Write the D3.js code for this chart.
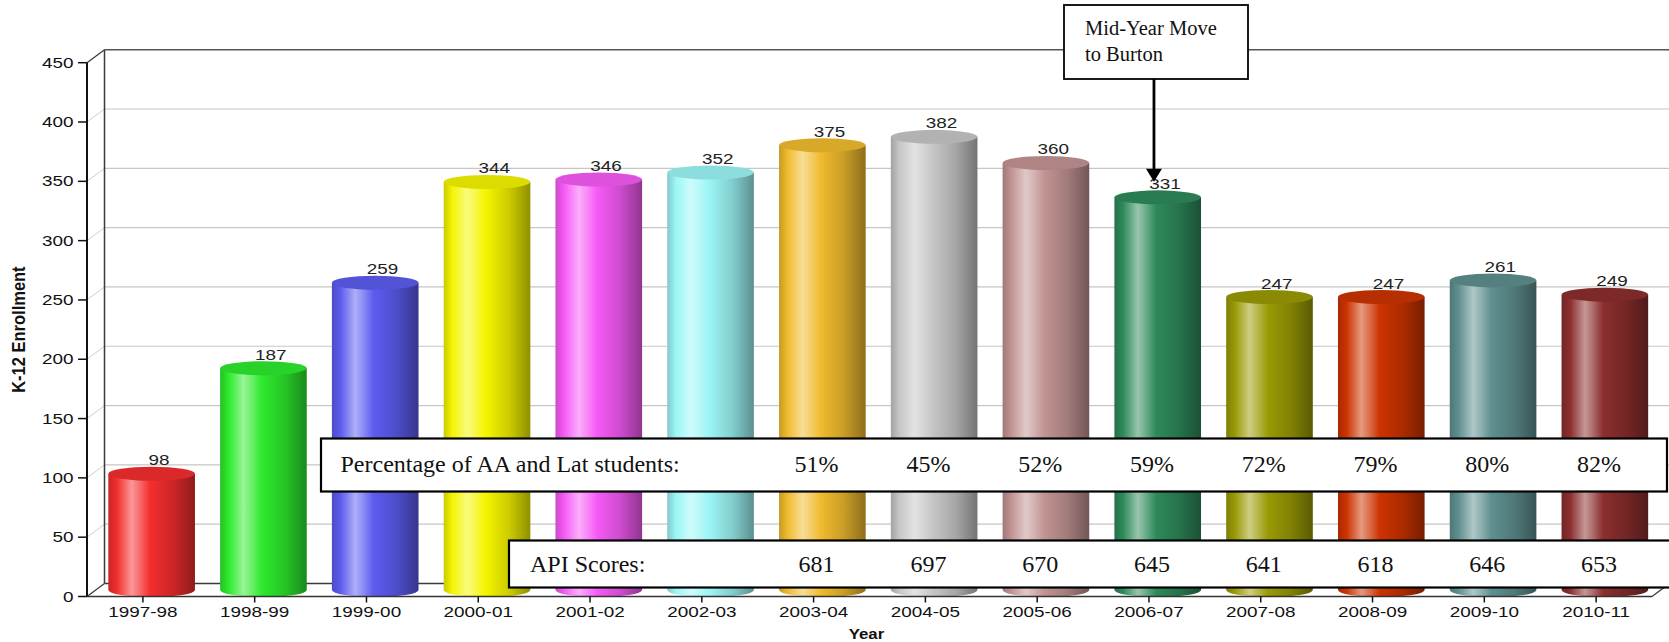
<!DOCTYPE html>
<html>
<head>
<meta charset="utf-8">
<script src="https://cdn.jsdelivr.net/npm/d3@7"></script>
<style>
  body { margin: 0; background: #fff; }
  svg { display: block; }
</style>
</head>
<body>
<svg id="chart" width="1669" height="642"></svg>
<script>
// School years and K-12 enrollment per year
const years = ["1997-98", "1998-99", "1999-00", "2000-01", "2001-02", "2002-03", "2003-04",
               "2004-05", "2005-06", "2006-07", "2007-08", "2008-09", "2009-10", "2010-11"];
const enrollment = [98, 187, 259, 344, 346, 352, 375, 382, 360, 331, 247, 247, 261, 249];
const barColors = ["#f42e2e", "#2eea2e", "#5c5cf0", "#f5f500", "#f65af6", "#9cf6f6", "#f0bb2e",
                   "#c6c6c6", "#c29393", "#2e8a5a", "#9a9a05", "#cc3300", "#5f8f8f", "#8b2e2e"];
const yTicks = [0, 50, 100, 150, 200, 250, 300, 350, 400, 450];

// Demographics and API scores for the later years
const statYears = ["2003-04", "2004-05", "2005-06", "2006-07", "2007-08", "2008-09", "2009-10", "2010-11"];
const aaLatShare = [51, 45, 52, 59, 72, 79, 80, 82];
const apiScores = [681, 697, 670, 645, 641, 618, 646, 653];

const noteYear = "2006-07";
const noteLines = ["Mid-Year Move", "to Burton"];

// ---- layout ----
const svg = d3.select("#chart");
const left = 87, right = 1652, baseY = 596.5, topY = 62.7;
const DX = 17.5, DY = -13;            // depth offset of the back wall
const SX = 1.35;                      // horizontal stretch of chart lettering
const axisFont = "'Liberation Sans', Arial, sans-serif";
const serif = "'Liberation Serif', 'Times New Roman', serif";

const x = d3.scaleBand().domain(years).range([left, right]).padding(0);
const xc = d => x(d) + x.bandwidth() / 2;
const y = d3.scaleLinear().domain([0, 450]).range([baseY, topY]);
const barW = x.bandwidth() * 0.775;

function wide(sel, sx) {
  sel.attr("transform", function () {
    const t = d3.select(this);
    return `translate(${t.attr("data-x")},${t.attr("data-y")}) scale(${sx},1)`;
  });
}

// ---- gradients ----
const defs = svg.append("defs");
barColors.forEach((c, i) => {
  const base = d3.color(c);
  const mix = t => d3.interpolateRgb(c, "#ffffff")(t);
  const g = defs.append("linearGradient").attr("id", "cyl" + i)
    .attr("x1", "0%").attr("x2", "100%").attr("y1", "0%").attr("y2", "0%");
  [[0, base.darker(0.55)], [0.1, base], [0.27, mix(0.5)], [0.36, mix(0.3)], [0.48, base],
   [0.75, base.darker(0.5)], [1, base.darker(1.5)]]
    .forEach(([o, col]) => g.append("stop").attr("offset", o).attr("stop-color", col.toString()));
});

// ---- walls and grid ----
const grid = svg.append("g");
yTicks.filter(v => v > 0 && v < 450).forEach(v => {
  grid.append("line").attr("x1", left).attr("y1", y(v)).attr("x2", left + DX).attr("y2", y(v) + DY)
    .attr("stroke", "#cfcfcf").attr("stroke-width", 1);
  grid.append("line").attr("x1", left + DX).attr("y1", y(v) + DY).attr("x2", 1669).attr("y2", y(v) + DY)
    .attr("stroke", "#c6c6c6").attr("stroke-width", 1.2);
});
const wall = svg.append("g").attr("stroke", "#3a3a3a").attr("fill", "none");
wall.append("line").attr("x1", left + DX).attr("y1", y(450) + DY).attr("x2", left + DX).attr("y2", y(0) + DY).attr("stroke-width", 1.5);
wall.append("line").attr("x1", left + DX).attr("y1", y(450) + DY).attr("x2", 1669).attr("y2", y(450) + DY).attr("stroke-width", 1.5).attr("stroke", "#555");
wall.append("line").attr("x1", left).attr("y1", y(450)).attr("x2", left + DX).attr("y2", y(450) + DY).attr("stroke-width", 1.2);
wall.append("line").attr("x1", left).attr("y1", y(0)).attr("x2", left + DX).attr("y2", y(0) + DY).attr("stroke-width", 1.2);
wall.append("line").attr("x1", left + DX).attr("y1", y(0) + DY).attr("x2", 1669).attr("y2", y(0) + DY).attr("stroke-width", 1.5);

// ---- cylinders ----
const bars = svg.append("g").selectAll("g").data(years).join("g");
const ry = 7;
bars.each(function (d, i) {
  const g = d3.select(this);
  const cx = xc(d) + DX / 2;
  const l = cx - barW / 2, r = cx + barW / 2;
  const yt = y(enrollment[i]) + DY / 2;
  const yb = y(0) + DY / 2;
  g.append("path")
    .attr("d", `M${l},${yt} L${l},${yb} A${barW / 2},${ry} 0 0 0 ${r},${yb} L${r},${yt} Z`)
    .attr("fill", `url(#cyl${i})`);
  g.append("ellipse").attr("cx", cx).attr("cy", yt).attr("rx", barW / 2).attr("ry", ry)
    .attr("fill", d3.color(barColors[i]).darker(0.3).toString());
});

// ---- front axes ----
const axes = svg.append("g").attr("stroke", "#111");
axes.append("line").attr("x1", left).attr("y1", y(450)).attr("x2", left).attr("y2", y(0)).attr("stroke-width", 2);
axes.append("line").attr("x1", left).attr("y1", y(0)).attr("x2", right).attr("y2", y(0)).attr("stroke-width", 1.6).attr("stroke", "#333");
axes.append("line").attr("x1", right).attr("y1", y(0)).attr("x2", right + DX).attr("y2", y(0) + DY).attr("stroke-width", 1.2).attr("stroke", "#333");
yTicks.forEach(v => {
  axes.append("line").attr("x1", left - 9).attr("y1", y(v)).attr("x2", left).attr("y2", y(v)).attr("stroke-width", 1.5);
});
years.forEach(d => {
  axes.append("line").attr("x1", xc(d)).attr("y1", y(0)).attr("x2", xc(d)).attr("y2", y(0) + 6).attr("stroke-width", 1.5);
});

// tick labels
svg.append("g").selectAll("text").data(yTicks).join("text")
  .attr("data-x", 73.5).attr("data-y", v => y(v) + 5)
  .attr("text-anchor", "end").attr("font-family", axisFont).attr("font-size", 14).attr("fill", "#111")
  .text(v => v).call(wide, SX);

svg.append("g").selectAll("text").data(years).join("text")
  .attr("data-x", d => xc(d)).attr("data-y", 617)
  .attr("text-anchor", "middle").attr("font-family", axisFont).attr("font-size", 14).attr("fill", "#111")
  .text(d => d).call(wide, SX);

// axis titles
svg.append("text")
  .attr("transform", `translate(25,${(y(0) + y(450)) / 2}) rotate(-90) scale(1,1.15)`)
  .attr("text-anchor", "middle").attr("font-family", axisFont).attr("font-size", 16.5).attr("font-weight", "bold")
  .attr("fill", "#111").text("K-12 Enrollment");
svg.append("text")
  .attr("data-x", (left + right) / 2 - 3).attr("data-y", 639)
  .attr("text-anchor", "middle").attr("font-family", axisFont).attr("font-size", 14).attr("font-weight", "bold")
  .attr("fill", "#111").text("Year").call(wide, 1.2);

// value labels above cylinders
svg.append("g").selectAll("text").data(years).join("text")
  .attr("data-x", d => xc(d) + 16).attr("data-y", (d, i) => y(enrollment[i]) - 15)
  .attr("text-anchor", "middle").attr("font-family", axisFont).attr("font-size", 14).attr("fill", "#222")
  .text((d, i) => enrollment[i]).call(wide, SX);

// ---- statistic boxes ----
const pctBox = svg.append("g");
pctBox.append("rect").attr("x", 321).attr("y", 438.5).attr("width", 1346).attr("height", 53)
  .attr("fill", "#fff").attr("stroke", "#000").attr("stroke-width", 2.2);
pctBox.append("text").attr("x", 340.5).attr("y", 472).attr("font-family", serif).attr("font-size", 24)
  .attr("fill", "#111").text("Percentage of AA and Lat students:");
pctBox.selectAll("text.v").data(statYears).join("text").attr("class", "v")
  .attr("x", d => xc(d) + 3).attr("y", 472).attr("text-anchor", "middle")
  .attr("font-family", serif).attr("font-size", 24).attr("fill", "#111")
  .text((d, i) => aaLatShare[i] + "%");

const apiBox = svg.append("g");
apiBox.append("rect").attr("x", 509).attr("y", 540.5).attr("width", 1170).attr("height", 47)
  .attr("fill", "#fff").attr("stroke", "#000").attr("stroke-width", 2.2);
apiBox.append("text").attr("x", 530).attr("y", 572).attr("font-family", serif).attr("font-size", 24)
  .attr("fill", "#111").text("API Scores:");
apiBox.selectAll("text.v").data(statYears).join("text").attr("class", "v")
  .attr("x", d => xc(d) + 3).attr("y", 572).attr("text-anchor", "middle")
  .attr("font-family", serif).attr("font-size", 24).attr("fill", "#111")
  .text((d, i) => apiScores[i]);

// ---- note with arrow ----
const note = svg.append("g");
note.append("rect").attr("x", 1064).attr("y", 5).attr("width", 184).attr("height", 74)
  .attr("fill", "#fff").attr("stroke", "#000").attr("stroke-width", 1.8);
note.selectAll("text").data(noteLines).join("text")
  .attr("x", 1085).attr("y", (d, i) => 35 + i * 26)
  .attr("font-family", serif).attr("font-size", 20.5).attr("fill", "#111").text(d => d);
const ax = xc(noteYear) + 5;
const tip = y(enrollment[years.indexOf(noteYear)]) - 22;
note.append("line").attr("x1", ax).attr("y1", 79).attr("x2", ax).attr("y2", tip - 10)
  .attr("stroke", "#000").attr("stroke-width", 2.8);
note.append("path").attr("d", `M${ax - 8},${tip - 13} L${ax + 8},${tip - 13} L${ax},${tip} Z`).attr("fill", "#000");
</script>
</body>
</html>
